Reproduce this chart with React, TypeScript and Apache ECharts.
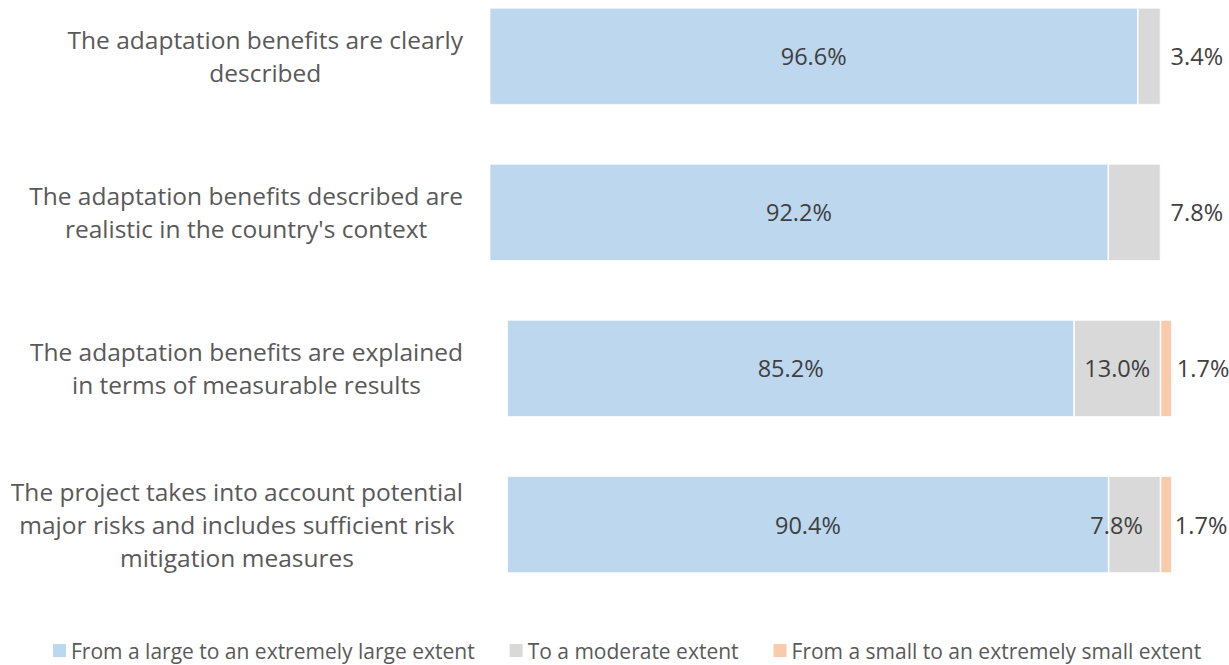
import React, { useEffect, useRef } from 'react';
import * as echarts from 'echarts';

const categories = [
  'The adaptation benefits are clearly\ndescribed',
  "The adaptation benefits described are\nrealistic in the country's context",
  'The adaptation benefits are explained\nin terms of measurable results',
  'The project takes into account potential\nmajor risks and includes sufficient risk\nmitigation measures',
];
const seriesNames = [
  'From a large to an extremely large extent',
  'To a moderate extent',
  'From a small to an extremely small extent',
];
const largeExtent = [96.6, 92.2, 85.2, 90.4];
const moderateExtent = [3.4, 7.8, 13.0, 7.8];
const smallExtent: (number | null)[] = [null, null, 1.7, 1.7];
const colors = ['#BDD7EE', '#D9D9D9', '#F8CBAD'];
// which of the two (slightly offset) panels each row belongs to
const rowPanel = [0, 0, 1, 1];

const FONT = 'Open Sans';

export default function App() {
  const ref = useRef<HTMLDivElement>(null);
  useEffect(() => {
    if (!ref.current) return;
    const chart = echarts.init(ref.current, null, { renderer: 'svg' });
    const valueLabel = { color: '#404040', fontSize: 23.5, fontFamily: FONT };
    const fmt = (p: any) => Number(p.value).toFixed(1) + '%';
    const allSeries: any[] = [];
    const seriesData = [largeExtent, moderateExtent, smallExtent];
    [0, 1].forEach((panel) => {
      seriesData.forEach((vals, si) => {
        const data = vals.map((v, ri) => {
          if (rowPanel[ri] !== panel || v == null) return '-';
          let label: any = { show: true, position: 'inside' };
          if (si === 1 && panel === 0) label = { show: true, position: 'right', distance: 10 };
          if (si === 2) label = { show: true, position: 'right', distance: ri === 3 ? 3 : 5 };
          return { value: v, label };
        });
        const s: any = {
          type: 'bar',
          name: seriesNames[si],
          stack: 'p' + panel,
          xAxisIndex: panel,
          yAxisIndex: panel,
          barWidth: 97,
          itemStyle: { color: colors[si], borderColor: '#ffffff', borderWidth: 0.75 },
          label: { ...valueLabel, formatter: fmt },
          data,
        };
        if (si === 1 && panel === 1) {
          s.labelLayout = (p: any) => (p.dataIndex === 3 ? { dx: -18 } : {});
        }
        allSeries.push(s);
      });
    });
    const gridCommon = { top: -21.8, height: 624.4, containLabel: false, outerBoundsMode: 'none' };
    const option: any = {
      animation: false,
      textStyle: { fontFamily: FONT },
      grid: [
        { ...gridCommon, left: 489.6, width: 671 },
        { ...gridCommon, left: 507.2, width: 665.3 },
      ],
      xAxis: [
        { type: 'value', gridIndex: 0, min: 0, max: 100, show: false },
        { type: 'value', gridIndex: 1, min: 0, max: 100, show: false },
      ],
      yAxis: [
        {
          type: 'category',
          gridIndex: 0,
          inverse: true,
          data: categories,
          axisLine: { show: false },
          axisTick: { show: false },
          splitLine: { show: false },
          axisLabel: {
            align: 'right',
            margin: 26.6,
            formatter: (v: string) => v.split('\n').map((l) => `{c|${l}}`).join('\n'),
            rich: {
              c: { align: 'center', lineHeight: 33, fontSize: 24.5, fontFamily: FONT, color: '#595959' },
            },
          },
        },
        {
          type: 'category',
          gridIndex: 1,
          inverse: true,
          data: categories,
          show: false,
        },
      ],
      legend: {
        data: seriesNames,
        left: 53,
        top: 640,
        padding: 0,
        itemWidth: 13,
        itemHeight: 13,
        itemGap: 35,
        icon: 'rect',
        itemStyle: { borderWidth: 0 },
        textStyle: { color: '#595959', fontSize: 21, fontFamily: FONT },
      },
      series: allSeries,
    };
    chart.setOption(option);
    return () => chart.dispose();
  }, []);
  return (
    <div
      ref={ref}
      style={{ position: 'fixed', left: 0, top: 0, width: 1229, height: 665, background: '#fff' }}
    />
  );
}
